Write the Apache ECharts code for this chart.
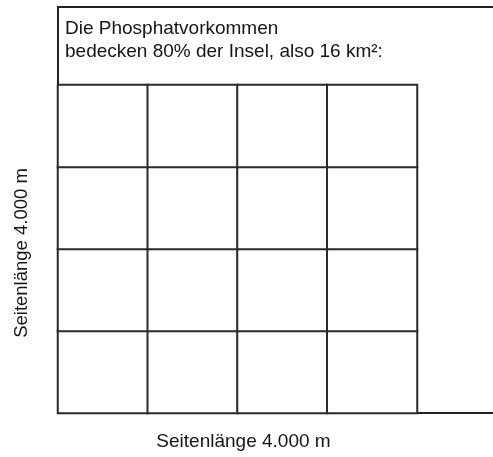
<!DOCTYPE html>
<html><head><meta charset="utf-8">
<script src="https://cdn.jsdelivr.net/npm/echarts@6/dist/echarts.min.js"></script>
<style>html,body{margin:0;padding:0;background:#fff}#c{width:493px;height:457px}</style>
</head><body><div id="c"></div>
<script>
const columns = ['1', '2', '3', '4'];
const rows = ['1', '2', '3', '4'];
const cellAreaKm2 = [
  [1, 1, 1, 1],
  [1, 1, 1, 1],
  [1, 1, 1, 1],
  [1, 1, 1, 1]
];
const titleText = 'Die Phosphatvorkommen\nbedecken 80% der Insel, also 16 km²:';
const xName = 'Seitenlänge 4.000 m';
const yName = 'Seitenlänge 4.000 m';

const data = [];
cellAreaKm2.forEach((r, j) => r.forEach((v, i) => data.push([i, j, v])));

const font = 'Liberation Sans, Arial, sans-serif';
const chart = echarts.init(document.getElementById('c'), null, {renderer: 'canvas'});
chart.setOption({
  animation: false,
  backgroundColor: '#fff',
  title: {
    text: titleText, left: 65, top: 17, padding: 0,
    textStyle: {fontFamily: font, fontSize: 19, fontWeight: 'normal', color: '#151515', lineHeight: 23}
  },
  grid: [
    {left: 58, top: 85, width: 359, height: 328, show: false, outerBoundsMode: 'none', containLabel: false},
    {left: 58, top: 7, right: -4, bottom: 44, show: true, borderColor: '#222', borderWidth: 2, backgroundColor: 'transparent', outerBoundsMode: 'none'}
  ],
  xAxis: [
    {type: 'category', data: columns, gridIndex: 0, name: xName, nameLocation: 'middle', nameGap: 19,
     nameTextStyle: {fontFamily: font, fontSize: 19, color: '#151515', padding: [0, 0, 0, 12]},
     axisLine: {show: false}, axisTick: {show: false}, axisLabel: {show: false}, splitLine: {show: false}},
    {type: 'value', gridIndex: 1, show: false}
  ],
  yAxis: [
    {type: 'category', data: rows, gridIndex: 0, name: yName, nameLocation: 'middle', nameGap: 27,
     nameTextStyle: {fontFamily: font, fontSize: 18.5, color: '#151515', padding: [0, 8, 0, 0]},
     axisLine: {show: false}, axisTick: {show: false}, axisLabel: {show: false}, splitLine: {show: false}},
    {type: 'value', gridIndex: 1, show: false}
  ],
  visualMap: {show: false, min: 0, max: 1, inRange: {color: ['#ffffff', '#ffffff']}},
  series: [{
    type: 'heatmap', xAxisIndex: 0, yAxisIndex: 0, data: data,
    itemStyle: {borderColor: '#2a2a2a', borderWidth: 2},
    emphasis: {disabled: true}
  }]
});
</script></body></html>
